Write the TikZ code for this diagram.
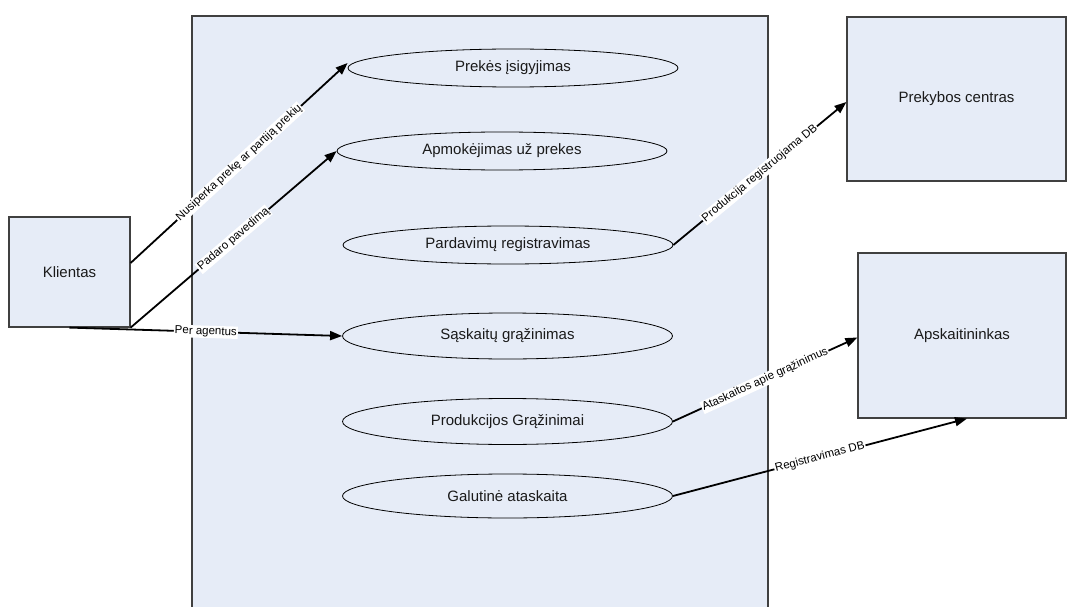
\documentclass[tikz,border=0pt]{standalone}
\usepackage{fontspec}
\setmainfont{Liberation Sans}
\usetikzlibrary{shapes.geometric,arrows.meta}

\definecolor{panel}{RGB}{230,236,247}
\definecolor{edge}{RGB}{64,64,64}
\definecolor{ink}{RGB}{26,26,26}

\tikzset{
  actor/.style={draw=edge, line width=1.2pt, fill=panel, rectangle, inner sep=0pt,
    text=ink, font=\fontsize{15}{18}\selectfont},
  usecase/.style={draw=black, line width=0.8pt, fill=panel, ellipse, inner sep=0pt,
    minimum width=330pt, text=ink, font=\fontsize{15}{18}\selectfont},
  flow/.style={line width=1.8pt, -{Triangle[length=12pt,width=9pt]}},
  tag/.style={fill=white, inner sep=1pt, sloped, text=black,
    font=\fontsize{11.5}{13}\selectfont}
}

\begin{document}
\begin{tikzpicture}[x=1pt,y=-1pt]
  \useasboundingbox (0,0) rectangle (1068,607);

  % system boundary, open at the lower edge
  \fill[panel] (192,16) rectangle (768,608);
  \draw[edge, line width=1.4pt] (192,608) -- (192,16) -- (768,16) -- (768,608);

  % actors
  \node[actor, minimum width=121pt, minimum height=110pt] (klientas) at (69.5,272) {Klientas};
  \node[actor, minimum width=219pt, minimum height=164pt] (centras) at (956.5,99) {Prekybos centras};
  \node[actor, minimum width=208pt, minimum height=165pt] (apsk) at (962,335.5) {Apskaitininkas};

  % use cases
  \node[usecase, minimum height=38pt] (e1) at (513,68) {Prekės įsigyjimas};
  \node[usecase, minimum height=38pt] (e2) at (502,151) {Apmokėjimas už prekes};
  \node[usecase, minimum height=38pt] (e3) at (508,245) {Pardavimų registravimas};
  \node[usecase, minimum height=46pt] (e4) at (507.5,336) {Sąskaitų grąžinimas};
  \node[usecase, minimum height=46pt] (e5) at (507.5,421.5) {Produkcijos Grąžinimai};
  \node[usecase, minimum height=44pt] (e6) at (507.5,496) {Galutinė ataskaita};

  % connectors
  \draw[flow] ([yshift=9pt]klientas.east) -- ([yshift=5pt]e1.west)
    node[tag, midway] {Nusiperka prekę ar partiją prekių};
  \draw[flow] (klientas.south east) -- (e2.west)
    node[tag, midway] {Padaro pavedimą};
  \draw[flow] (klientas.south) -- (e4.west)
    node[tag, midway] {Per agentus};
  \draw[flow] (e3.east) -- ([yshift=-3pt]centras.west)
    node[tag, midway] {Produkcija registruojama DB};
  \draw[flow] (e5.east) -- ([yshift=-2pt]apsk.west)
    node[tag, midway] {Ataskaitos apie grąžinimus};
  \draw[flow] (e6.east) -- ([xshift=5pt]apsk.south)
    node[tag, midway] {Registravimas DB};
\end{tikzpicture}
\end{document}
